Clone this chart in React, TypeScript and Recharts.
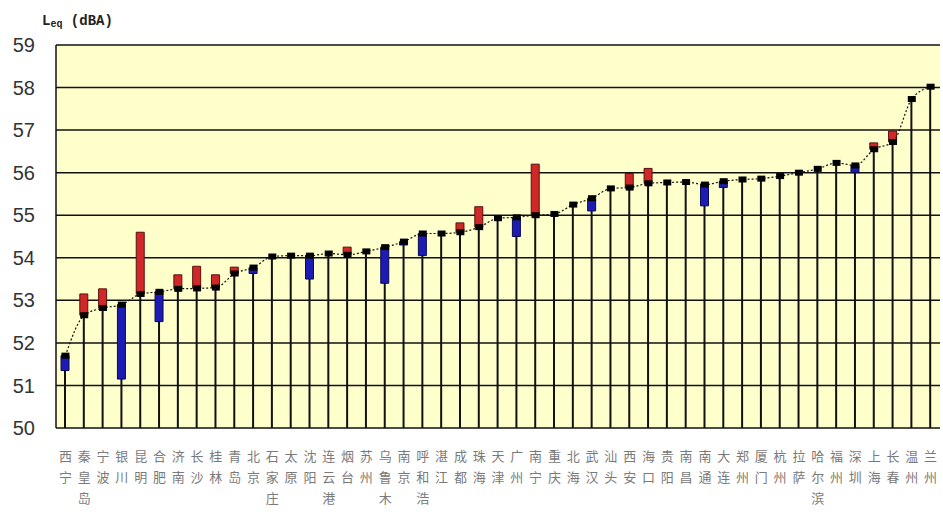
import { ComposedChart, Bar, Line, XAxis, YAxis, CartesianGrid, Cell } from "recharts";

const cities = [
  "西宁", "秦皇岛", "宁波", "银川", "昆明", "合肥", "济南", "长沙", "桂林", "青岛",
  "北京", "石家庄", "太原", "沈阳", "连云港", "烟台", "苏州", "乌鲁木齐", "南京", "呼和浩特",
  "湛江", "成都", "珠海", "天津", "广州", "南宁", "重庆", "北海", "武汉", "汕头",
  "西安", "海口", "贵阳", "南昌", "南通", "大连", "郑州", "厦门", "杭州", "拉萨",
  "哈尔滨", "福州", "深圳", "上海", "长春", "温州", "兰州",
];

// current year Leq (the line)
const current = [
  51.7, 52.65, 52.82, 52.9, 53.15, 53.2, 53.27, 53.28, 53.3, 53.63,
  53.77, 54.03, 54.05, 54.05, 54.1, 54.07, 54.15, 54.25, 54.38, 54.57,
  54.57, 54.6, 54.72, 54.93, 54.95, 55.0, 55.03, 55.25, 55.4, 55.63,
  55.65, 55.75, 55.77, 55.78, 55.72, 55.8, 55.84, 55.86, 55.92, 56.0,
  56.09, 56.23, 56.17, 56.55, 56.72, 57.73, 58.02,
];

// previous year Leq (other end of the bar)
const previous = [
  51.35, 53.15, 53.27, 51.15, 54.6, 52.5, 53.6, 53.8, 53.6, 53.78,
  53.63, 54.03, 54.05, 53.5, 54.1, 54.25, 54.15, 53.4, 54.3, 54.05,
  54.57, 54.82, 55.2, 54.93, 54.5, 56.2, 55.03, 55.25, 55.1, 55.63,
  55.98, 56.1, 55.77, 55.78, 55.22, 55.65, 55.84, 55.86, 55.92, 56.0,
  56.09, 56.23, 56.0, 56.7, 56.98, 57.73, 58.02,
];

const yTicks = [50, 51, 52, 53, 54, 55, 56, 57, 58, 59];

const data = cities.map((city, i) => ({
  city,
  cur: current[i],
  prev: previous[i],
  drop: [50, current[i]],
  range:
    previous[i] === current[i]
      ? null
      : [Math.min(previous[i], current[i]), Math.max(previous[i], current[i])],
}));

// vertical label, one character per row; only three rows fit above the edge
const CityTick = (props: any) => {
  const { x, y, payload } = props;
  const chars = String(payload.value).split("").slice(0, 3);
  return (
    <text
      x={x}
      y={y + 25}
      textAnchor="middle"
      fontSize={13}
      fill="#7a7a7a"
      fontFamily="'Noto Sans CJK SC', sans-serif"
    >
      {chars.map((c, i) => (
        <tspan key={i} x={x} dy={i === 0 ? 0 : 21}>
          {c}
        </tspan>
      ))}
    </text>
  );
};

const Marker = (props: any) => {
  const { cx, cy } = props;
  if (cx == null || cy == null) return null;
  return <rect x={cx - 4} y={cy - 3} width={8} height={6} fill="#000" />;
};

export default function App() {
  return (
    <div style={{ position: "absolute", left: 0, top: 0, width: 943, height: 514, background: "#fff" }}>
      <ComposedChart
        width={943}
        height={514}
        data={data}
        margin={{ top: 45, right: 3, left: 0, bottom: 0 }}
      >
        <CartesianGrid
          vertical={false}
          fill="#FFFFCC"
          fillOpacity={1}
          stroke="#111"
          strokeWidth={1.5}
        />
        <XAxis
          dataKey="city"
          interval={0}
          height={86}
          axisLine={false}
          tickLine={false}
          tick={<CityTick />}
        />
        <XAxis xAxisId="f" dataKey="city" hide />
        <YAxis
          domain={[50, 59]}
          ticks={yTicks}
          allowDataOverflow
          width={56}
          axisLine={{ stroke: "#111", strokeWidth: 1.5 }}
          tickLine={false}
          tickMargin={15}
          tick={{ fontSize: 20, fill: "#333", fontFamily: "'Liberation Sans', Arial, sans-serif" }}
        />
        <Bar dataKey="drop" barSize={2} fill="#111" isAnimationActive={false} />
        <Line
          type="monotone"
          dataKey="cur"
          stroke="#111"
          strokeWidth={1.2}
          strokeDasharray="2 2"
          dot={<Marker />}
          activeDot={false}
          isAnimationActive={false}
        />
        <Bar xAxisId="f" dataKey="range" barSize={8} isAnimationActive={false}>
          {data.map((d, i) => (
            <Cell
              key={i}
              fill={d.prev > d.cur ? "#D02828" : "#1C1CB4"}
              stroke={d.prev > d.cur ? "#5a1010" : "#0a0a50"}
              strokeWidth={1}
            />
          ))}
        </Bar>
        <text
          x={42}
          y={25}
          fontSize={14}
          fontWeight="bold"
          fill="#222"
          fontFamily="'Liberation Mono', monospace"
        >
          L
          <tspan fontSize={10} dy={2}>eq</tspan>
          <tspan dy={-2}> (dBA)</tspan>
        </text>
      </ComposedChart>
    </div>
  );
}
